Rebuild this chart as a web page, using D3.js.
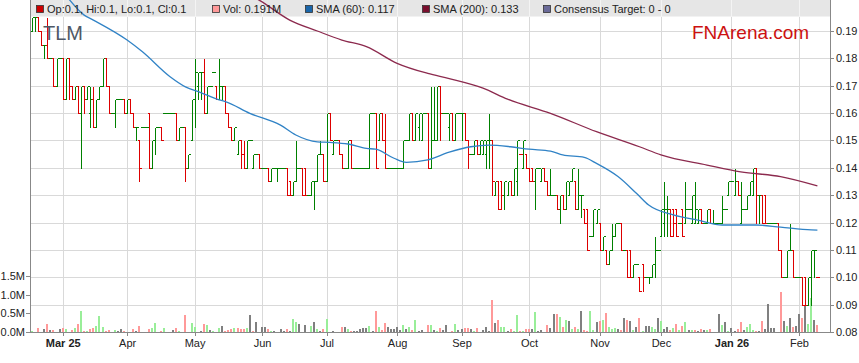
<!DOCTYPE html>
<html>
<head>
<meta charset="utf-8">
<script src="https://cdn.jsdelivr.net/npm/d3@7"></script>
<style>
body{margin:0;background:#fff;}
svg{display:block;font-family:"Liberation Sans",Arial,sans-serif;}
</style>
</head>
<body>
<div id="chart"></div>
<script>
// trading days (weekdays) 17 Feb 2025 .. 10 Feb 2026
var firstDay = new Date(2025, 1, 17), lastDay = new Date(2026, 1, 11);
var tickDates = ["2025-03-03","2025-04-01","2025-05-01","2025-06-02","2025-07-01","2025-08-01",
  "2025-09-01","2025-10-01","2025-11-03","2025-12-01","2026-01-01","2026-02-02"];
var tickLabels = ["Mar 25","Apr","May","Jun","Jul","Aug","Sep","Oct","Nov","Dec","Jan 26","Feb"];
var priceTicks = [0.08,0.09,0.10,0.11,0.12,0.13,0.14,0.15,0.16,0.17,0.18,0.19];
var volTicks = [0,0.5,1.0,1.5];

var open = [
0.19,0.195,0.195,0.19,0.185,0.185,0.18,0.18,0.17,0.18,
0.18,0.165,0.18,0.17,0.165,0.17,0.16,0.17,0.165,0.16,
0.165,0.155,0.165,0.17,0.18,0.17,0.16,0.16,0.165,0.165,
0.165,0.16,0.165,0.16,0.155,0.15,0.155,0.155,0.16,0.14,
0.15,0.155,0.155,0.16,0.16,0.16,0.16,0.16,0.15,0.155,
0.155,0.14,0.15,0.165,0.17,0.175,0.175,0.16,0.17,0.175,
0.17,0.165,0.17,0.17,0.16,0.155,0.15,0.145,0.15,0.145,
0.14,0.15,0.14,0.145,0.145,0.14,0.14,0.14,0.135,0.14,
0.14,0.14,0.14,0.14,0.135,0.13,0.135,0.14,0.14,0.14,
0.13,0.13,0.135,0.135,0.145,0.145,0.135,0.16,0.145,0.15,
0.15,0.145,0.14,0.14,0.15,0.14,0.14,0.14,0.14,0.14,
0.14,0.16,0.16,0.15,0.16,0.15,0.14,0.14,0.14,0.14,
0.14,0.14,0.15,0.15,0.16,0.15,0.155,0.15,0.16,0.16,
0.14,0.15,0.15,0.17,0.16,0.16,0.155,0.16,0.15,0.16,
0.16,0.16,0.15,0.145,0.145,0.15,0.145,0.145,0.145,0.15,
0.15,0.13,0.135,0.135,0.13,0.13,0.135,0.13,0.135,0.145,
0.14,0.145,0.14,0.14,0.135,0.14,0.135,0.14,0.135,0.13,
0.13,0.13,0.125,0.13,0.125,0.13,0.135,0.135,0.125,0.13,
0.125,0.125,0.115,0.115,0.12,0.12,0.11,0.11,0.105,0.11,
0.115,0.12,0.12,0.11,0.11,0.11,0.1,0.105,0.1,0.105,
0.1,0.1,0.1,0.105,0.11,0.115,0.12,0.125,0.125,0.125,
0.125,0.12,0.125,0.12,0.125,0.12,0.12,0.12,0.125,0.12,
0.12,0.125,0.12,0.12,0.12,0.12,0.125,0.13,0.135,0.13,
0.135,0.12,0.125,0.125,0.13,0.13,0.14,0.13,0.13,0.13,
0.12,0.12,0.12,0.12,0.11,0.1,0.1,0.11,0.11,0.1,
0.1,0.1,0.1,0.09,0.1,0.11,0.1];

var high = [
0.195,0.195,0.195,0.19,0.185,0.195,0.18,0.18,0.18,0.18,
0.18,0.18,0.18,0.17,0.17,0.17,0.17,0.17,0.17,0.17,
0.17,0.165,0.17,0.18,0.18,0.17,0.16,0.165,0.165,0.165,
0.165,0.165,0.165,0.16,0.155,0.15,0.155,0.155,0.16,0.15,
0.155,0.155,0.155,0.16,0.16,0.16,0.16,0.16,0.155,0.155,
0.155,0.145,0.165,0.18,0.175,0.175,0.18,0.17,0.17,0.175,
0.17,0.18,0.17,0.17,0.16,0.155,0.155,0.15,0.15,0.15,
0.15,0.15,0.145,0.145,0.145,0.14,0.14,0.14,0.14,0.14,
0.14,0.14,0.14,0.14,0.135,0.135,0.15,0.14,0.14,0.14,
0.13,0.135,0.135,0.145,0.15,0.145,0.16,0.16,0.15,0.15,
0.15,0.145,0.14,0.15,0.15,0.14,0.14,0.14,0.14,0.14,
0.16,0.16,0.16,0.16,0.16,0.16,0.14,0.14,0.14,0.14,
0.14,0.15,0.15,0.16,0.16,0.16,0.16,0.16,0.16,0.16,
0.17,0.17,0.17,0.17,0.16,0.16,0.16,0.16,0.16,0.16,
0.16,0.16,0.15,0.145,0.15,0.15,0.15,0.15,0.15,0.16,
0.15,0.135,0.135,0.135,0.135,0.135,0.135,0.14,0.15,0.145,
0.15,0.145,0.14,0.14,0.14,0.14,0.14,0.14,0.135,0.14,
0.13,0.13,0.13,0.13,0.135,0.135,0.14,0.135,0.14,0.13,
0.125,0.125,0.115,0.125,0.125,0.12,0.115,0.11,0.11,0.12,
0.12,0.12,0.12,0.11,0.11,0.11,0.105,0.105,0.1,0.105,
0.1,0.1,0.105,0.115,0.11,0.125,0.135,0.13,0.125,0.125,
0.125,0.12,0.125,0.135,0.125,0.13,0.135,0.125,0.125,0.12,
0.125,0.125,0.125,0.12,0.12,0.13,0.125,0.135,0.135,0.14,
0.135,0.135,0.125,0.13,0.135,0.14,0.14,0.13,0.13,0.13,
0.12,0.12,0.12,0.12,0.11,0.1,0.11,0.12,0.11,0.1,
0.1,0.1,0.1,0.1,0.11,0.11,0.1];

var low = [
0.19,0.19,0.19,0.185,0.18,0.18,0.18,0.17,0.17,0.18,
0.165,0.165,0.165,0.165,0.165,0.16,0.14,0.16,0.165,0.155,
0.155,0.155,0.165,0.17,0.17,0.16,0.16,0.155,0.165,0.165,
0.16,0.16,0.16,0.155,0.15,0.135,0.155,0.155,0.14,0.14,
0.145,0.155,0.15,0.16,0.16,0.16,0.16,0.15,0.15,0.155,
0.135,0.14,0.15,0.155,0.165,0.165,0.16,0.16,0.17,0.175,
0.165,0.165,0.165,0.16,0.155,0.15,0.15,0.145,0.14,0.14,
0.14,0.15,0.14,0.145,0.14,0.14,0.14,0.135,0.135,0.14,
0.135,0.14,0.14,0.13,0.13,0.13,0.135,0.14,0.13,0.13,
0.13,0.13,0.125,0.135,0.145,0.135,0.135,0.15,0.145,0.15,
0.145,0.14,0.14,0.14,0.14,0.14,0.14,0.14,0.14,0.14,
0.14,0.16,0.14,0.15,0.15,0.14,0.14,0.14,0.14,0.14,
0.14,0.14,0.15,0.15,0.15,0.15,0.15,0.15,0.16,0.14,
0.14,0.15,0.15,0.15,0.16,0.16,0.15,0.15,0.15,0.16,
0.15,0.15,0.14,0.145,0.145,0.145,0.145,0.145,0.14,0.14,
0.13,0.13,0.125,0.125,0.125,0.13,0.13,0.13,0.13,0.145,
0.14,0.14,0.135,0.135,0.125,0.14,0.135,0.135,0.13,0.13,
0.13,0.125,0.12,0.125,0.125,0.13,0.135,0.125,0.125,0.122,
0.12,0.11,0.115,0.115,0.12,0.11,0.11,0.105,0.105,0.11,
0.115,0.12,0.11,0.11,0.1,0.1,0.1,0.105,0.095,0.095,
0.1,0.098,0.1,0.1,0.11,0.115,0.115,0.115,0.115,0.115,
0.115,0.12,0.115,0.12,0.125,0.12,0.12,0.12,0.12,0.12,
0.12,0.12,0.12,0.12,0.12,0.12,0.125,0.13,0.135,0.13,
0.13,0.12,0.125,0.125,0.13,0.13,0.12,0.12,0.12,0.12,
0.12,0.12,0.12,0.11,0.1,0.1,0.1,0.11,0.1,0.1,
0.1,0.09,0.09,0.09,0.09,0.1,0.1];

var close = [
0.195,0.195,0.19,0.185,0.185,0.18,0.18,0.17,0.18,0.18,
0.165,0.18,0.17,0.165,0.17,0.16,0.17,0.165,0.17,0.165,
0.155,0.165,0.17,0.18,0.17,0.16,0.16,0.165,0.165,0.165,
0.16,0.165,0.16,0.155,0.155,0.14,0.155,0.155,0.14,0.15,
0.155,0.155,0.15,0.16,0.16,0.16,0.16,0.15,0.155,0.155,
0.14,0.145,0.165,0.175,0.175,0.175,0.16,0.17,0.17,0.175,
0.165,0.17,0.17,0.16,0.155,0.15,0.155,0.15,0.145,0.14,
0.15,0.15,0.145,0.145,0.14,0.14,0.14,0.135,0.14,0.14,
0.14,0.14,0.14,0.13,0.13,0.135,0.14,0.14,0.13,0.13,
0.13,0.135,0.135,0.145,0.145,0.135,0.16,0.15,0.15,0.15,
0.145,0.14,0.14,0.15,0.14,0.14,0.14,0.14,0.14,0.14,
0.16,0.16,0.14,0.16,0.15,0.14,0.14,0.14,0.14,0.14,
0.14,0.15,0.15,0.16,0.15,0.16,0.16,0.16,0.16,0.14,
0.15,0.15,0.17,0.16,0.16,0.16,0.16,0.15,0.16,0.16,
0.16,0.15,0.145,0.145,0.15,0.145,0.15,0.15,0.15,0.15,
0.135,0.135,0.125,0.13,0.135,0.135,0.13,0.14,0.15,0.145,
0.15,0.14,0.135,0.135,0.14,0.14,0.14,0.135,0.13,0.13,
0.13,0.125,0.13,0.125,0.135,0.135,0.14,0.125,0.13,0.13,
0.12,0.11,0.115,0.125,0.125,0.11,0.115,0.105,0.11,0.115,
0.12,0.12,0.11,0.11,0.1,0.1,0.105,0.105,0.095,0.1,
0.1,0.1,0.105,0.11,0.11,0.125,0.125,0.125,0.115,0.12,
0.115,0.12,0.115,0.125,0.125,0.13,0.125,0.125,0.12,0.12,
0.125,0.12,0.12,0.12,0.12,0.125,0.125,0.135,0.135,0.135,
0.13,0.125,0.125,0.13,0.135,0.14,0.13,0.13,0.12,0.12,
0.12,0.12,0.12,0.11,0.1,0.1,0.11,0.11,0.1,0.1,
0.1,0.09,0.09,0.1,0.11,0.11,0.1];

// volume in millions of shares
var volume = [
0.03,0,0.11,0,0.09,0.21,0.05,0.05,0,0.09,
0.12,0.07,0,0.05,0.12,0.21,0.55,0.03,0.03,0.09,
0.12,0.16,0.43,0.14,0.04,0.05,0,0.05,0.03,0.07,
0.03,0,0,0.07,0.03,0.16,0,0,0.07,0.11,
0.24,0,0.04,0.1,0,0,0.05,0.1,0.03,0,
0.45,0,0.24,0.13,0,0.03,0.21,0.18,0.05,0.03,
0,0.11,0.15,0.03,0.05,0.08,0.11,0.12,0.08,0.08,
0.12,0.45,0.03,0.27,0,0.14,0.13,0.08,0.03,0.03,
0,0.08,0.03,0.08,0.03,0.34,0.27,0.21,0,0.2,
0,0.16,0.27,0.07,0.03,0.08,0.34,0,0.04,0,
0,0.13,0.13,0.07,0.03,0.03,0.04,0.08,0.11,0.11,
0.16,0.04,0.55,0.13,0.05,0.24,0.13,0.08,0.08,0.13,
0.05,0.19,0.08,0.13,0.05,0.32,0.03,0.05,0,0.19,
0.19,0.05,0.03,0.11,0.05,0.19,0,0.03,0.21,0.05,
0.08,0.11,0.11,0.08,0.03,0.11,0,0.05,0.13,0.03,
0.86,0.24,0.32,0.13,0.13,0.03,0.08,0.03,0.46,0.03,
0.03,0.08,0.08,0.08,0.54,0.03,0.05,0,0.19,0.11,
0.48,0.48,0.4,0.13,0.32,0.29,0.08,0.13,0.08,0.56,
0.05,0.03,0.56,0.05,0.27,0.29,0.32,0.51,0.13,0.08,
0.11,0.08,0.05,0.38,0.32,0.29,0.05,0.13,0.38,0.03,
0.16,0.16,0.13,0.08,0.38,0.29,0.08,0.13,0.05,0.11,
0.21,0.05,0.16,0.27,0.05,0.05,0.05,0.03,0.08,0.05,
0.05,0.08,0,0,0.48,0.19,0.27,0.03,0.11,0.03,
0.08,0.27,0.05,0.13,0.21,0.05,0.03,0.03,0.29,0.08,
0.75,0.11,0.11,0,1.07,0.29,0.16,0.38,0.13,0.16,
0.48,0.38,0.7,0.21,0.9,0.32,0.191];

// moving averages at these bar numbers
var sma60Bars = [12,17,20,31,36,45,50,55,61,63,71,81,86,93,97,103,109,112,118,122,129,136,143,149,156,162,169,173,180,184,191,197,201,209,217,225,236,244,254,256];
var sma60 = [0.2017,0.1958,0.194,0.1867,0.1824,0.1733,0.1696,0.1675,0.1648,0.1642,0.1599,0.1556,0.152,0.1495,0.1493,0.1487,0.1471,0.1468,0.1435,0.142,0.1429,0.1457,0.1477,0.1483,0.1477,0.1468,0.1461,0.1447,0.1438,0.1416,0.1368,0.1307,0.1264,0.1228,0.1209,0.1191,0.1191,0.1183,0.1173,0.1172];
var sma200Bars = [72,74,84,93,101,109,119,129,136,147,155,169,184,198,205,220,231,244,256];
var sma200 = [0.2025,0.2013,0.194,0.19,0.1867,0.1843,0.1782,0.1745,0.1726,0.1691,0.1651,0.1599,0.1532,0.1477,0.1447,0.141,0.1385,0.1368,0.1334];

var width = 859, height = 363;
var plotLeft = 31, plotRight = 830, plotTop = 0, plotBottom = 332, bandHeight = 16.5;
var upColor = "#008000", downColor = "#dd0000";
var volUp = "#99ee99", volDown = "#ff9999", volFlat = "#808080";

var fmtDay = d3.timeFormat("%Y-%m-%d");
var days = d3.timeDay.range(firstDay, lastDay)
  .filter(d => d.getDay() % 6 !== 0)
  .map(fmtDay);

var svg = d3.select("#chart").append("svg")
  .attr("width", width)
  .attr("height", height);

var x = d3.scalePoint().domain(days).range([32, 817.4]);
var y = d3.scaleLinear().domain([0.08, 0.19]).range([plotBottom, 31]);
var yv = d3.scaleLinear().domain([0, 1.5]).range([plotBottom, 276]);

svg.append("clipPath").attr("id", "plotclip")
  .append("rect").attr("x", plotLeft).attr("y", plotTop)
  .attr("width", plotRight - plotLeft).attr("height", plotBottom - plotTop);

// grid
var grid = svg.append("g").attr("stroke", "#d9d9d9").attr("shape-rendering", "crispEdges");
grid.selectAll(".h").data(priceTicks.slice(1)).join("line")
  .attr("x1", plotLeft).attr("x2", plotRight)
  .attr("y1", d => Math.round(y(d)) + 0.5).attr("y2", d => Math.round(y(d)) + 0.5);
grid.selectAll(".v").data(tickDates).join("line")
  .attr("y1", plotTop).attr("y2", plotBottom)
  .attr("x1", d => Math.round(x(d)) + 0.5).attr("x2", d => Math.round(x(d)) + 0.5);

// legend strip, split by the month lines
svg.append("rect")
  .attr("x", plotLeft).attr("y", 0).attr("width", plotRight - plotLeft).attr("height", bandHeight)
  .attr("fill", "#e6e6e6");
svg.append("g").attr("stroke", "#f4f4f4").attr("shape-rendering", "crispEdges")
  .selectAll("line").data(tickDates).join("line")
  .attr("y1", 0).attr("y2", bandHeight)
  .attr("x1", d => Math.round(x(d)) + 0.5).attr("x2", d => Math.round(x(d)) + 0.5);

var plot = svg.append("g").attr("clip-path", "url(#plotclip)");

function volColor(i) {
  if (i === 0 || close[i] > close[i - 1]) return volUp;
  if (close[i] < close[i - 1]) return volDown;
  return volFlat;
}
function barColor(i) {
  if (close[i] > open[i]) return upColor;
  if (close[i] < open[i]) return downColor;
  return (i === 0 || close[i] >= close[i - 1]) ? upColor : downColor;
}

plot.append("g").attr("shape-rendering", "crispEdges")
  .selectAll("rect").data(volume).join("rect")
  .attr("x", (d, i) => Math.round(x(days[i])) - 1)
  .attr("width", 2)
  .attr("y", d => yv(d))
  .attr("height", d => plotBottom - yv(d))
  .attr("fill", (d, i) => volColor(i));

function py(v) { return Math.round(y(v)) + 0.5; }

plot.append("g").attr("shape-rendering", "crispEdges").attr("fill", "none")
  .selectAll("path").data(close).join("path")
  .attr("stroke", (d, i) => barColor(i))
  .attr("d", (d, i) => {
    var cx = Math.round(x(days[i])) + 0.5;
    return "M" + cx + "," + py(high[i]) + "V" + (py(low[i]) + 0.5) +
      "M" + (cx - 2) + "," + py(open[i]) + "H" + cx +
      "M" + cx + "," + py(close[i]) + "H" + (cx + 2);
  });

var smaLine = d3.line()
  .x(d => x(days[d[0]]))
  .y(d => y(d[1]))
  .curve(d3.curveMonotoneX);

plot.append("path")
  .datum(sma60Bars.map((b, i) => [b, sma60[i]]))
  .attr("fill", "none").attr("stroke", "#3183c6").attr("stroke-width", 1.3)
  .attr("d", smaLine);
plot.append("path")
  .datum(sma200Bars.map((b, i) => [b, sma200[i]]))
  .attr("fill", "none").attr("stroke", "#8c2a4e").attr("stroke-width", 1.3)
  .attr("d", smaLine);

// axes
var axisColor = "#888";
var rightAxis = svg.append("g")
  .attr("transform", "translate(" + plotRight + ",0)")
  .call(d3.axisRight(y).tickValues(priceTicks).tickFormat(d3.format(".2f")).tickSize(4).tickPadding(2));
var leftAxis = svg.append("g")
  .attr("transform", "translate(" + (plotLeft - 1) + ",0)")
  .call(d3.axisLeft(yv).tickValues(volTicks).tickFormat(d => d.toFixed(1) + "M").tickSize(4).tickPadding(1));
var bottomAxis = svg.append("g")
  .attr("transform", "translate(0," + plotBottom + ")")
  .call(d3.axisBottom(x).tickValues(tickDates).tickFormat((d, i) => tickLabels[i]).tickSize(4).tickPadding(3));

[rightAxis, leftAxis, bottomAxis].forEach(a => {
  a.select(".domain").remove();
  a.selectAll("line").attr("stroke", axisColor).attr("shape-rendering", "crispEdges");
  a.selectAll("text").attr("fill", "#222").attr("font-size", 11).attr("font-family", "Liberation Sans, Arial, sans-serif");
});
bottomAxis.selectAll("text").attr("font-weight", (d, i) => tickLabels[i].indexOf(" ") > 0 ? "bold" : null);

svg.append("g").attr("stroke", axisColor).attr("shape-rendering", "crispEdges").call(g => {
  g.append("line").attr("x1", plotLeft - 0.5).attr("x2", plotLeft - 0.5).attr("y1", 0).attr("y2", plotBottom);
  g.append("line").attr("x1", plotRight + 0.5).attr("x2", plotRight + 0.5).attr("y1", 0).attr("y2", plotBottom);
  g.append("line").attr("x1", plotLeft - 1).attr("x2", plotRight + 1).attr("y1", plotBottom + 0.5).attr("y2", plotBottom + 0.5);
});

// legend
var n = close.length;
var f1 = d3.format("~g");
var legend = [
  {x: 36, color: "#cc0000", text: "Op:" + f1(open[n-1]) + ", Hi:" + f1(high[n-1]) + ", Lo:" + f1(low[n-1]) + ", Cl:" + f1(close[n-1])},
  {x: 212, color: "#ff9999", text: "Vol: " + d3.format(".3f")(volume[n-1]) + "M"},
  {x: 305, color: "#1a66aa", text: "SMA (60): " + d3.format(".3f")(sma60[sma60.length-1])},
  {x: 422, color: "#7a0f2e", text: "SMA (200): " + d3.format(".3f")(sma200[sma200.length-1])},
  {x: 543, color: "#6b6b99", text: "Consensus Target: 0 - 0"}
];
var lg = svg.append("g").selectAll("g").data(legend).join("g")
  .attr("transform", d => "translate(" + d.x + ",0)");
lg.append("rect").attr("x", 0.5).attr("y", 5.5).attr("width", 7).attr("height", 7)
  .attr("fill", d => d.color).attr("stroke", "#333").attr("stroke-width", 0.8);
lg.append("text").attr("x", 11).attr("y", 13)
  .attr("font-size", 11).attr("fill", "#222").text(d => d.text);

svg.append("text").attr("x", 43).attr("y", 40)
  .attr("font-size", 20).attr("fill", "#4f5866").text("TLM");
svg.append("text").attr("x", 692).attr("y", 39)
  .attr("font-size", 19).attr("fill", "#cc1111").text("FNArena.com");
</script>
</body>
</html>
